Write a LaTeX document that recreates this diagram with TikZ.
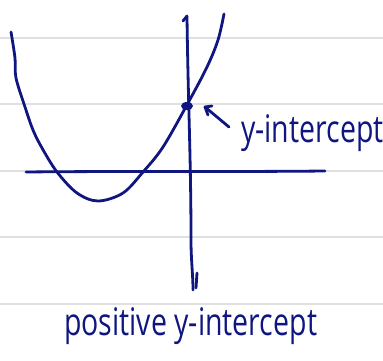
\documentclass[tikz,border=0pt]{standalone}
\usepackage{fontspec}
\newfontfamily\hand[FakeStretch=0.75]{Open Sans}
\usetikzlibrary{shapes.geometric}
\definecolor{ink}{RGB}{16,22,128}
\definecolor{rule}{RGB}{224,224,224}
\begin{document}
\begin{tikzpicture}[x=1pt,y=1pt,
  pen/.style={draw=ink,line width=2.8pt,line cap=round,line join=round},
  ruleline/.style={draw=rule,line width=1.6pt},
  label/.style={text=ink,font=\hand\fontsize{38}{40}\selectfont,inner sep=0pt,anchor=base west}]
\useasboundingbox (0,0) rectangle (383,360);
% ruled paper
\foreach \Y in {322,256,189,123,56}
  \draw[ruleline] (0,\Y) -- (383,\Y);
% axes
\coordinate (xl) at (26,188);
\coordinate (xr) at (325,189);
\draw[pen] (xl) .. controls (120,189) and (230,188) .. (xr);
\coordinate (yt) at (187,344);
\coordinate (yb) at (193,70);
\draw[pen] (183,339) -- (yt);
\draw[pen] (yt) .. controls (188,260) and (191,200) .. (191,120) .. controls (191,100) and (193,85) .. (yb);
\draw[pen] (197,87) -- (196,72);
% parabola
\draw[pen] plot[smooth,tension=0.55] coordinates {(11,328) (15,302) (16,282) (25,253) (33,230) (42,212) (57,188) (77,167) (98,159) (123,167) (143,188) (163,213) (188,257) (207,293) (218,320) (224,346)};
% y-intercept dot
\node[ellipse,fill=ink,minimum width=12pt,minimum height=8pt,inner sep=0pt] (yint) at (187,254) {};
% arrow
\coordinate (atip) at (205,253);
\coordinate (atail) at (229,233);
\draw[pen] (atail) -- (atip);
\draw[pen] (atip) -- (208,245);
\draw[pen] (atip) -- (212,254);
% labels
\node[label] (lab1) at (241,218) {y-intercept};
\node[label] (lab2) at (64,25) {positive y-intercept};
\end{tikzpicture}
\end{document}
